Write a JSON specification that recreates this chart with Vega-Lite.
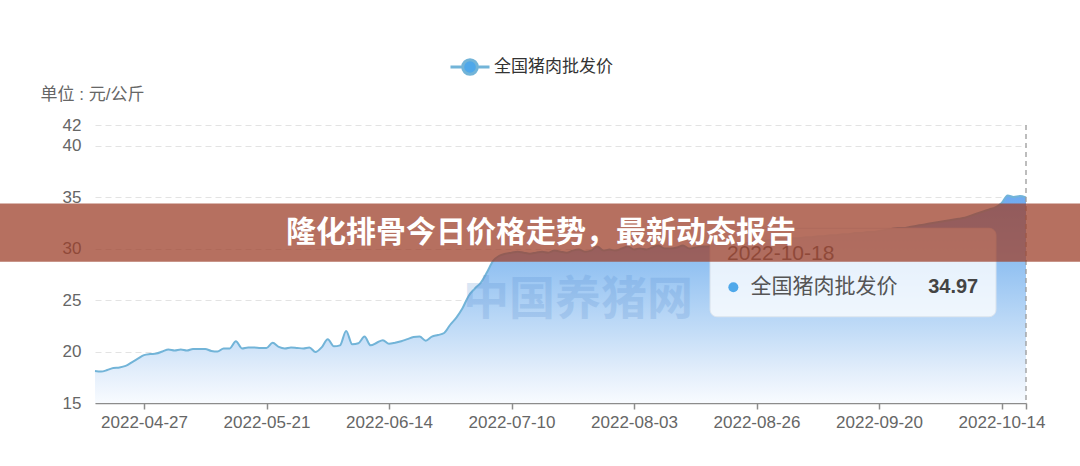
{
  "$schema": "https://vega.github.io/schema/vega-lite/v6.json",
  "width": 931,
  "height": 278,
  "autosize": {"type": "none"},
  "padding": {"left": 95, "top": 125, "right": 54, "bottom": 63},
  "background": "#ffffff",
  "config": {
    "font": "'Liberation Sans', 'Noto Sans CJK SC', sans-serif",
    "view": {"stroke": null}
  },
  "datasets": {
    "price": [
      {"date": "2022-04-19", "price": 18.1},
      {"date": "2022-04-20", "price": 18.05},
      {"date": "2022-04-21", "price": 18.2},
      {"date": "2022-04-22", "price": 18.4},
      {"date": "2022-04-23", "price": 18.45},
      {"date": "2022-04-24", "price": 18.6},
      {"date": "2022-04-25", "price": 18.95},
      {"date": "2022-04-26", "price": 19.3},
      {"date": "2022-04-27", "price": 19.65},
      {"date": "2022-04-28", "price": 19.75},
      {"date": "2022-04-29", "price": 19.8},
      {"date": "2022-04-30", "price": 20.0},
      {"date": "2022-05-03", "price": 20.2},
      {"date": "2022-05-04", "price": 20.1},
      {"date": "2022-05-05", "price": 20.2},
      {"date": "2022-05-06", "price": 20.1},
      {"date": "2022-05-07", "price": 20.25},
      {"date": "2022-05-09", "price": 20.25},
      {"date": "2022-05-10", "price": 20.25},
      {"date": "2022-05-11", "price": 20.05},
      {"date": "2022-05-12", "price": 20.0},
      {"date": "2022-05-13", "price": 20.3},
      {"date": "2022-05-14", "price": 20.3},
      {"date": "2022-05-16", "price": 21.0},
      {"date": "2022-05-17", "price": 20.3},
      {"date": "2022-05-18", "price": 20.4},
      {"date": "2022-05-19", "price": 20.4},
      {"date": "2022-05-20", "price": 20.35},
      {"date": "2022-05-21", "price": 20.35},
      {"date": "2022-05-23", "price": 20.85},
      {"date": "2022-05-24", "price": 20.45},
      {"date": "2022-05-25", "price": 20.3},
      {"date": "2022-05-26", "price": 20.4},
      {"date": "2022-05-27", "price": 20.35},
      {"date": "2022-05-28", "price": 20.3},
      {"date": "2022-05-30", "price": 20.4},
      {"date": "2022-05-31", "price": 19.95},
      {"date": "2022-06-01", "price": 20.4},
      {"date": "2022-06-02", "price": 21.2},
      {"date": "2022-06-03", "price": 20.5},
      {"date": "2022-06-04", "price": 20.6},
      {"date": "2022-06-06", "price": 22.0},
      {"date": "2022-06-07", "price": 20.7},
      {"date": "2022-06-08", "price": 20.8},
      {"date": "2022-06-09", "price": 21.45},
      {"date": "2022-06-10", "price": 20.6},
      {"date": "2022-06-11", "price": 20.85},
      {"date": "2022-06-13", "price": 21.1},
      {"date": "2022-06-14", "price": 20.75},
      {"date": "2022-06-15", "price": 20.85},
      {"date": "2022-06-16", "price": 21.0},
      {"date": "2022-06-17", "price": 21.2},
      {"date": "2022-06-20", "price": 21.4},
      {"date": "2022-06-21", "price": 21.45},
      {"date": "2022-06-22", "price": 21.05},
      {"date": "2022-06-23", "price": 21.45},
      {"date": "2022-06-24", "price": 21.6},
      {"date": "2022-06-27", "price": 21.8},
      {"date": "2022-06-28", "price": 22.6},
      {"date": "2022-06-29", "price": 23.3},
      {"date": "2022-06-30", "price": 24.2},
      {"date": "2022-07-01", "price": 25.4},
      {"date": "2022-07-04", "price": 26.1},
      {"date": "2022-07-05", "price": 26.7},
      {"date": "2022-07-06", "price": 27.7},
      {"date": "2022-07-07", "price": 28.8},
      {"date": "2022-07-08", "price": 29.3},
      {"date": "2022-07-09", "price": 29.5},
      {"date": "2022-07-10", "price": 29.6},
      {"date": "2022-07-11", "price": 29.7},
      {"date": "2022-07-12", "price": 29.6},
      {"date": "2022-07-13", "price": 29.5},
      {"date": "2022-07-14", "price": 29.6},
      {"date": "2022-07-15", "price": 29.7},
      {"date": "2022-07-16", "price": 29.6},
      {"date": "2022-07-18", "price": 29.8},
      {"date": "2022-07-19", "price": 29.7},
      {"date": "2022-07-20", "price": 29.6},
      {"date": "2022-07-21", "price": 29.8},
      {"date": "2022-07-22", "price": 29.9},
      {"date": "2022-07-23", "price": 29.7},
      {"date": "2022-07-25", "price": 29.8},
      {"date": "2022-07-26", "price": 30.2},
      {"date": "2022-07-27", "price": 29.8},
      {"date": "2022-07-28", "price": 29.9},
      {"date": "2022-07-29", "price": 29.8},
      {"date": "2022-08-01", "price": 30.0},
      {"date": "2022-08-02", "price": 30.2},
      {"date": "2022-08-03", "price": 29.9},
      {"date": "2022-08-04", "price": 30.0},
      {"date": "2022-08-05", "price": 29.9},
      {"date": "2022-08-06", "price": 30.1},
      {"date": "2022-08-08", "price": 30.3},
      {"date": "2022-08-09", "price": 30.0},
      {"date": "2022-08-10", "price": 30.0},
      {"date": "2022-08-11", "price": 30.1},
      {"date": "2022-08-12", "price": 30.3},
      {"date": "2022-08-13", "price": 30.0},
      {"date": "2022-08-15", "price": 30.1},
      {"date": "2022-08-16", "price": 30.2},
      {"date": "2022-08-17", "price": 30.2},
      {"date": "2022-08-18", "price": 30.3},
      {"date": "2022-08-19", "price": 30.3},
      {"date": "2022-08-20", "price": 30.4},
      {"date": "2022-08-22", "price": 30.4},
      {"date": "2022-08-23", "price": 30.5},
      {"date": "2022-08-24", "price": 30.5},
      {"date": "2022-08-25", "price": 30.6},
      {"date": "2022-08-26", "price": 30.7},
      {"date": "2022-08-27", "price": 30.7},
      {"date": "2022-08-29", "price": 30.8},
      {"date": "2022-08-30", "price": 30.8},
      {"date": "2022-08-31", "price": 30.9},
      {"date": "2022-09-01", "price": 30.9},
      {"date": "2022-09-02", "price": 31.0},
      {"date": "2022-09-03", "price": 31.0},
      {"date": "2022-09-05", "price": 31.1},
      {"date": "2022-09-06", "price": 31.1},
      {"date": "2022-09-07", "price": 31.2},
      {"date": "2022-09-08", "price": 31.2},
      {"date": "2022-09-09", "price": 31.3},
      {"date": "2022-09-12", "price": 31.3},
      {"date": "2022-09-13", "price": 31.4},
      {"date": "2022-09-14", "price": 31.4},
      {"date": "2022-09-15", "price": 31.5},
      {"date": "2022-09-16", "price": 31.5},
      {"date": "2022-09-17", "price": 31.6},
      {"date": "2022-09-19", "price": 31.6},
      {"date": "2022-09-20", "price": 31.7},
      {"date": "2022-09-21", "price": 31.8},
      {"date": "2022-09-22", "price": 31.9},
      {"date": "2022-09-23", "price": 32.0},
      {"date": "2022-09-24", "price": 32.0},
      {"date": "2022-09-25", "price": 32.1},
      {"date": "2022-09-26", "price": 32.2},
      {"date": "2022-09-27", "price": 32.3},
      {"date": "2022-09-28", "price": 32.4},
      {"date": "2022-09-29", "price": 32.5},
      {"date": "2022-09-30", "price": 32.6},
      {"date": "2022-10-04", "price": 32.7},
      {"date": "2022-10-05", "price": 32.8},
      {"date": "2022-10-06", "price": 32.9},
      {"date": "2022-10-07", "price": 33.0},
      {"date": "2022-10-08", "price": 33.2},
      {"date": "2022-10-10", "price": 33.4},
      {"date": "2022-10-11", "price": 33.6},
      {"date": "2022-10-12", "price": 33.8},
      {"date": "2022-10-13", "price": 34.0},
      {"date": "2022-10-14", "price": 34.4},
      {"date": "2022-10-15", "price": 35.15},
      {"date": "2022-10-16", "price": 35.0},
      {"date": "2022-10-17", "price": 35.1},
      {"date": "2022-10-18", "price": 34.97}
    ],
    "pointer": [{"date": "2022-10-18"}],
    "watermark": [{"date": "2022-07-22T10:00", "value": 25.0, "text": "中国养猪网"}],
    "tipbox": [{"start": "2022-08-17T06:00", "end": "2022-10-12T03:00", "top": 31.97, "bottom": 23.38}],
    "tipdate": [{"date": "2022-08-20T13:00", "value": 29.47, "text": "2022-10-18"}],
    "tipdot": [{"date": "2022-08-21T19:00", "value": 26.24}],
    "tiplabel": [{"date": "2022-08-25T04:00", "value": 26.3, "text": "全国猪肉批发价"}],
    "tipvalue": [{"date": "2022-10-08T16:00", "value": 26.3, "text": "34.97"}],
    "banner": [{"start": "2022-03-15T00:00", "end": "2022-11-15T00:00", "top": 34.38, "bottom": 28.72}],
    "bannertext": [{"date": "2022-07-15T05:00", "value": 31.51, "text": "隆化排骨今日价格走势，最新动态报告"}]
  },
  "resolve": {"scale": {"x": "independent"}},
  "layer": [
    {
      "layer": [
        {
          "data": {"name": "price"},
          "mark": {
            "type": "area",
            "interpolate": "monotone",
            "color": {
              "gradient": "linear",
              "x1": 0, "y1": 0, "x2": 0, "y2": 1,
              "stops": [
                {"offset": 0, "color": "#6eaaf0"},
                {"offset": 0.35, "color": "#95c3f2"},
                {"offset": 0.65, "color": "#c2dcf7"},
                {"offset": 0.85, "color": "#e3eefb"},
                {"offset": 1, "color": "#f8fbff"}
              ]
            }
          },
          "encoding": {
            "x": {
              "field": "date", "type": "ordinal",
              "scale": {"type": "point", "padding": 0},
              "axis": {
                "title": null,
                "values": ["2022-04-27", "2022-05-21", "2022-06-14", "2022-07-10", "2022-08-03", "2022-08-26", "2022-09-20", "2022-10-14", "2022-10-18"],
                "labelExpr": "datum.value == '2022-10-18' ? '' : datum.label",
                "labelAngle": 0,
                "grid": false,
                "domainColor": "#8c8c8c",
                "domainWidth": 1.5,
                "tickColor": "#8c8c8c",
                "tickWidth": 1.5,
                "tickSize": 6,
                "labelFontSize": 17,
                "labelColor": "#666666",
                "labelPadding": 5,
                "labelFlush": false,
                "labelOverlap": false
              }
            },
            "y": {
              "field": "price", "type": "quantitative",
              "scale": {"domain": [15, 42], "zero": false, "nice": false},
              "axis": {
                "title": "单位 : 元/公斤",
                "titleAngle": 0,
                "titleAlign": "left",
                "titleBaseline": "middle",
                "titleX": -55,
                "titleY": -31,
                "titleFontSize": 17,
                "titleFontWeight": "normal",
                "titleColor": "#666666",
                "values": [15, 20, 25, 30, 35, 40, 42],
                "domain": false,
                "ticks": false,
                "labelPadding": 14,
                "labelFontSize": 17,
                "labelColor": "#666666",
                "gridColor": "#e3e3e3",
                "gridDash": [6, 4],
                "gridWidth": 1.2
              }
            },
            "y2": {"datum": 15}
          }
        },
        {
          "data": {"name": "price"},
          "mark": {"type": "line", "interpolate": "monotone", "strokeWidth": 2},
          "encoding": {
            "x": {"field": "date", "type": "ordinal"},
            "y": {"field": "price", "type": "quantitative"},
            "color": {
              "datum": "全国猪肉批发价",
              "scale": {"range": ["#72b4d8"]},
              "legend": {
                "orient": "none",
                "legendX": 361,
                "legendY": -72,
                "title": null,
                "padding": 0,
                "symbolType": "M-1.6,0H-0.6M0.6,0H1.6M-0.6,0A0.6,0.6,0,1,1,0.6,0A0.6,0.6,0,1,1,-0.6,0Z",
                "symbolSize": 595,
                "symbolStrokeWidth": 3,
                "labelFontSize": 17,
                "labelColor": "#333333",
                "labelOffset": 10,
                "encode": {
                  "symbols": {
                    "update": {
                      "fill": {"value": "#4fa8ea"},
                      "stroke": {"value": "#4fa8ea"},
                      "opacity": {"value": 1}
                    }
                  }
                }
              }
            }
          }
        },
        {
          "data": {"name": "pointer"},
          "mark": {"type": "rule", "color": "#9a9a9a", "strokeDash": [5, 4], "strokeWidth": 1.3},
          "encoding": {
            "x": {"field": "date", "type": "ordinal"},
            "y": {"datum": 42},
            "y2": {"datum": 15}
          }
        }
      ]
    },
    {
      "layer": [
        {
          "data": {"name": "watermark"},
          "mark": {"type": "text", "fontSize": 46, "fontWeight": "bold", "color": "#4d86cc", "opacity": 0.2, "align": "center", "baseline": "middle", "font": "'Noto Sans CJK SC', sans-serif"},
          "encoding": {
            "x": {
              "field": "date", "type": "temporal", "axis": null,
              "scale": {"domain": [{"year": 2022, "month": 4, "date": 19}, {"year": 2022, "month": 10, "date": 18}]}
            },
            "y": {"field": "value", "type": "quantitative"},
            "text": {"field": "text"}
          }
        },
        {
          "data": {"name": "tipbox"},
          "mark": {"type": "rect", "fill": "#ffffff", "fillOpacity": 0.78, "stroke": "#dfe6ee", "strokeWidth": 1, "cornerRadius": 7},
          "encoding": {
            "x": {"field": "start", "type": "temporal", "axis": null},
            "x2": {"field": "end"},
            "y": {"field": "top", "type": "quantitative"},
            "y2": {"field": "bottom"}
          }
        },
        {
          "data": {"name": "tipdate"},
          "mark": {"type": "text", "fontSize": 21, "color": "#666666", "align": "left", "baseline": "middle"},
          "encoding": {
            "x": {"field": "date", "type": "temporal", "axis": null},
            "y": {"field": "value", "type": "quantitative"},
            "text": {"field": "text"}
          }
        },
        {
          "data": {"name": "tipdot"},
          "mark": {"type": "point", "shape": "circle", "filled": true, "size": 100, "color": "#4fa8ea", "opacity": 1},
          "encoding": {
            "x": {"field": "date", "type": "temporal", "axis": null},
            "y": {"field": "value", "type": "quantitative"}
          }
        },
        {
          "data": {"name": "tiplabel"},
          "mark": {"type": "text", "fontSize": 21, "color": "#555555", "align": "left", "baseline": "middle"},
          "encoding": {
            "x": {"field": "date", "type": "temporal", "axis": null},
            "y": {"field": "value", "type": "quantitative"},
            "text": {"field": "text"}
          }
        },
        {
          "data": {"name": "tipvalue"},
          "mark": {"type": "text", "fontSize": 20, "fontWeight": "bold", "color": "#444444", "align": "right", "baseline": "middle"},
          "encoding": {
            "x": {"field": "date", "type": "temporal", "axis": null},
            "y": {"field": "value", "type": "quantitative"},
            "text": {"field": "text"}
          }
        },
        {
          "data": {"name": "banner"},
          "mark": {"type": "rect", "fill": "#9e402b", "fillOpacity": 0.75, "clip": false},
          "encoding": {
            "x": {"field": "start", "type": "temporal", "axis": null},
            "x2": {"field": "end"},
            "y": {"field": "top", "type": "quantitative"},
            "y2": {"field": "bottom"}
          }
        },
        {
          "data": {"name": "bannertext"},
          "mark": {"type": "text", "fontSize": 30, "fontWeight": "bold", "color": "#ffffff", "align": "center", "baseline": "middle", "font": "'Noto Sans CJK SC', sans-serif"},
          "encoding": {
            "x": {"field": "date", "type": "temporal", "axis": null},
            "y": {"field": "value", "type": "quantitative"},
            "text": {"field": "text"}
          }
        }
      ]
    }
  ]
}
